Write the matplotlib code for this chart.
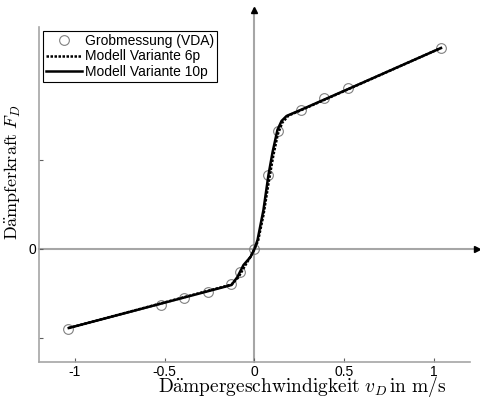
import matplotlib.pyplot as plt
import numpy as np

plt.rcParams['mathtext.fontset'] = 'cm'

# Messpunkte (VDA Grobmessung)
v_mess = [-1.04, -0.52, -0.39, -0.26, -0.13, -0.078, 0.0, 0.078, 0.13, 0.26, 0.39, 0.52, 1.04]
F_mess = [-899, -629, -551, -483, -393, -258, 0, 831, 1326, 1562, 1697, 1809, 2258]

# Modell Variante 6p
v_6p = [-1.034, -0.128, -0.09, -0.05, -0.02, 0.0, 0.02, 0.05, 0.08, 0.105, 0.13, 0.155, 0.19, 0.26, 1.039]
F_6p = [-888, -400, -320, -180, -80, 0, 90, 380, 760, 1050, 1290, 1420, 1500, 1560, 2259]

# Modell Variante 10p
v_10p = [-1.034, -0.128, -0.095, -0.061, -0.022, 0.0, 0.017, 0.05, 0.078, 0.101, 0.128, 0.151, 0.179, 0.257, 0.536, 1.039]
F_10p = [-888, -405, -315, -180, -90, 0, 100, 438, 832, 1090, 1338, 1439, 1495, 1562, 1810, 2259]

xticks = [-1, -0.5, 0, 0.5, 1]
yticks = [-1000, 0, 1000]

fig = plt.figure(figsize=(4.81, 3.98), dpi=100)
ax = fig.add_axes([0.081, 0.0905, 0.896, 0.8415])

grey = '#a6a6a6'
ax.set_xlim(-1.2, 1.2)
ax.set_ylim(-1270, 2494)

# Achsenkreuz mit Pfeilen
ax.plot([-1.2, 1.235], [0, 0], color=grey, lw=1.5, clip_on=False, zorder=1)
ax.plot([0, 0], [-1270, 2700], color=grey, lw=1.5, clip_on=False, zorder=1)
ax.plot([1.24], [0], marker='>', color='black', ms=5, clip_on=False)
ax.plot([0], [2690], marker='^', color='black', ms=5, clip_on=False)

ax.plot(v_mess, F_mess, 'o', mfc='none', mec='#808080', mew=0.8, ms=7,
        label='Grobmessung (VDA)', zorder=2)
ax.plot(v_6p, F_6p, color='black', ls=(0, (1, 0.6)), lw=1.8,
        label='Modell Variante 6p', zorder=3)
ax.plot(v_10p, F_10p, color='black', ls='-', lw=1.8,
        label='Modell Variante 10p', zorder=4)

for s in ['top', 'right']:
    ax.spines[s].set_visible(False)
for s in ['left', 'bottom']:
    ax.spines[s].set_color(grey)
    ax.spines[s].set_linewidth(1.2)

ax.set_xticks(xticks)
ax.set_xticklabels(['-1', '-0.5', '0', '0.5', '1'])
ax.set_yticks(yticks)
ax.set_yticklabels(['', '0', ''])
ax.tick_params(direction='in', length=3, color='#606060', width=0.8,
               labelsize=10, pad=2)
for lab in ax.get_xticklabels() + ax.get_yticklabels():
    lab.set_family('Liberation Sans')

ax.set_xlabel(r'$\mathrm{D\ddot{a}mpergeschwindigkeit}\ v_D\,\mathrm{in\ m/s}$',
              fontsize=14, labelpad=0)
ax.set_ylabel(r'$\mathrm{D\ddot{a}mpferkraft}\ F_D$', fontsize=13)
ax.xaxis.set_label_coords(0.61, -0.035)
ax.yaxis.set_label_coords(-0.038, 0.567)

leg = ax.legend(loc='upper left', prop={'family': 'Liberation Sans', 'size': 10},
                fancybox=False, edgecolor='black', framealpha=1,
                borderpad=0.2, labelspacing=0.1, handlelength=2.6,
                handletextpad=0.2, borderaxespad=0.3)
leg.get_frame().set_linewidth(0.8)

fig.savefig('out.png', dpi=100)
